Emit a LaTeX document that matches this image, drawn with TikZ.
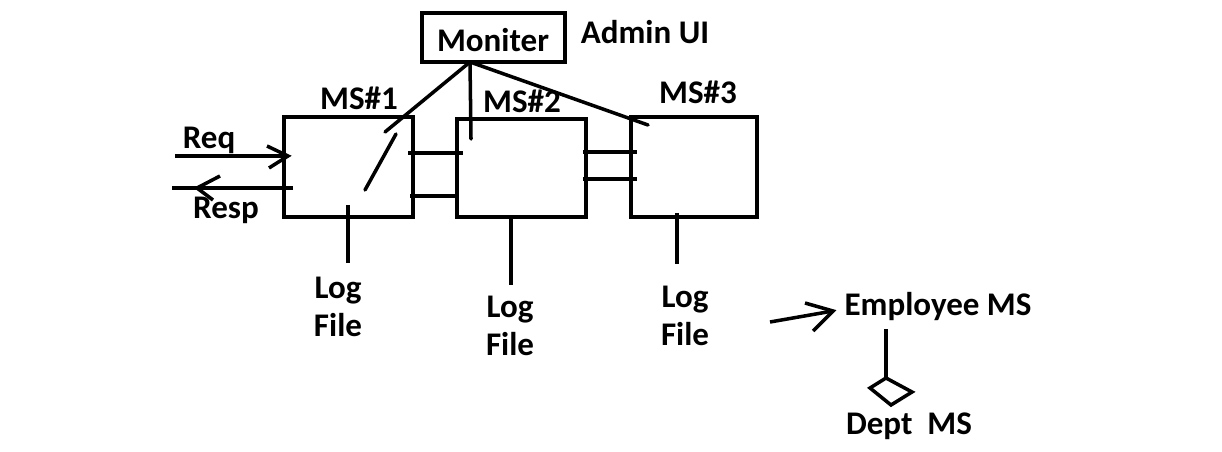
\documentclass[tikz,border=0pt]{standalone}
\usepackage{fontspec}
\setmainfont{Carlito}
\begin{document}
\begin{tikzpicture}[x=0.02cm,y=-0.02cm, line width=2pt,
  lbl/.style={font=\bfseries\fontsize{18.8}{21.5}\selectfont, inner sep=0pt, align=center},
  msbox/.style={draw, inner sep=0pt, minimum width=2.58cm, minimum height=2cm},
  wire/.style={line cap=round}]
\useasboundingbox (0,0) rectangle (1222,452);
% boxes
\node[draw, inner sep=0pt, minimum width=2.86cm, minimum height=0.98cm] (mon) at (493.5,37.5) {};
\node[lbl] (montxt) at (493,40) {Moniter};
\node[lbl] (admin) at (645,32) {Admin UI};
\node[msbox] (ms1) at (348.5,167) {};
\node[msbox, minimum height=1.96cm] (ms2) at (521.5,168) {};
\node[msbox, minimum width=2.52cm] (ms3) at (694,167) {};
\node[lbl] (l1) at (359,98) {MS\#1};
\node[lbl] (l2) at (522,101) {MS\#2};
\node[lbl] (l3) at (698,92) {MS\#3};
% monitor links
\coordinate (mtap) at (470,62);
\coordinate (m1) at (385,132);
\coordinate (m2) at (471,139);
\coordinate (m3) at (648,125);
\draw[wire] (mtap) -- (m1);
\draw[wire] (mtap) -- (m2);
\draw[wire] (mtap) -- (m3);
\coordinate (s1a) at (396,134);
\coordinate (s1b) at (365,190);
\draw[wire] (s1a) -- (s1b);
% inter-box links
\coordinate (a1) at (408,153); \coordinate (a2) at (463,153);
\coordinate (b1) at (410,196); \coordinate (b2) at (457,196);
\coordinate (c1) at (583,152); \coordinate (c2) at (637,152);
\coordinate (d1) at (583,179); \coordinate (d2) at (637,179);
\draw (a1) -- (a2); \draw (b1) -- (b2);
\draw (c1) -- (c2); \draw (d1) -- (d2);
% Req / Resp
\coordinate (reqs) at (175,156); \coordinate (reqe) at (288,156);
\coordinate (reqh1) at (267,146); \coordinate (reqh2) at (269,168);
\draw (reqs) -- (reqe);
\draw[line join=miter] (reqh1) -- (reqe) -- (reqh2);
\node[lbl] (req) at (209,140) {Req};
\coordinate (resps) at (293,188); \coordinate (respe) at (172,188);
\coordinate (resptip) at (197,188);
\coordinate (resph1) at (220,176); \coordinate (resph2) at (213,200);
\draw (resps) -- (respe);
\draw (resph1) -- (resptip) -- (resph2);
\node[lbl] (resp) at (226,210) {Resp};
% log files
\coordinate (g1a) at (348,205); \coordinate (g1b) at (348,263);
\coordinate (g2a) at (511,217); \coordinate (g2b) at (511,285);
\coordinate (g3a) at (677,213); \coordinate (g3b) at (677,264);
\draw (g1a) -- (g1b); \draw (g2a) -- (g2b); \draw (g3a) -- (g3b);
\node[lbl] (f1) at (338,307) {Log\\File};
\node[lbl] (f2) at (510,326) {Log\\File};
\node[lbl] (f3) at (685,316) {Log\\File};
% employee / dept
\node[lbl] (emp) at (938,307) {Employee MS};
\coordinate (ea) at (770,322); \coordinate (eb) at (833,311);
\coordinate (eh1) at (805,303); \coordinate (eh2) at (813,331);
\draw (ea) -- (eb);
\draw (eh1) -- (eb) -- (eh2);
\coordinate (v1) at (886,329); \coordinate (dtop) at (886,378);
\draw (v1) -- (dtop);
\draw[line join=miter] (dtop) -- (912,392) -- (891,405) -- (870,388) -- cycle;
\node[lbl] (dept) at (909,426) {Dept\ \ MS};
\end{tikzpicture}
\end{document}
